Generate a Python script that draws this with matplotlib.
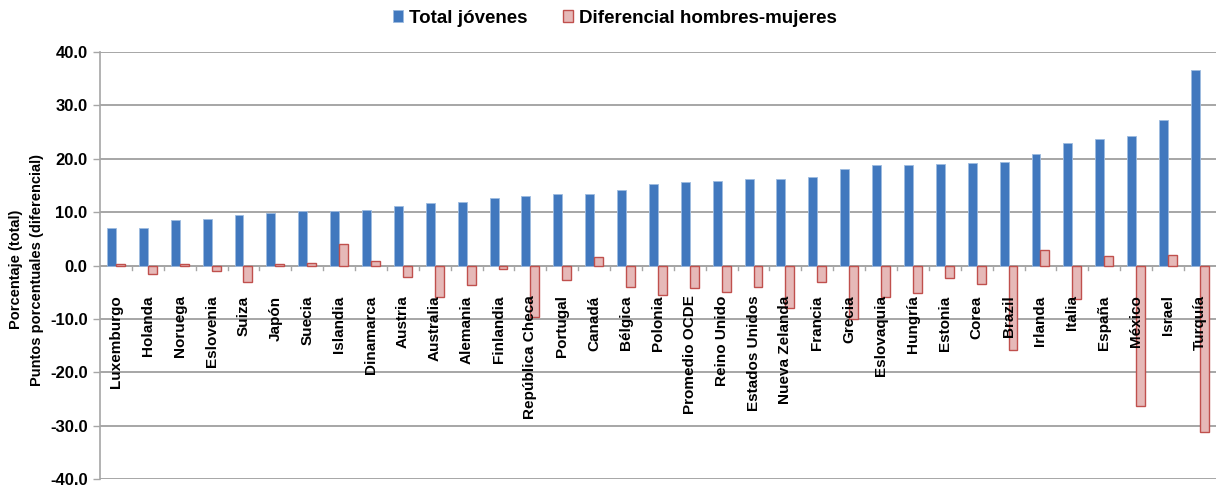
import numpy as np
import matplotlib.pyplot as plt

plt.rcParams['font.family'] = ['Liberation Sans', 'DejaVu Sans']
plt.rcParams['font.weight'] = 'bold'

# Paises ordenados por el total de jovenes
paises = ['Luxemburgo', 'Holanda', 'Noruega', 'Eslovenia', 'Suiza', 'Japón',
          'Suecia', 'Islandia', 'Dinamarca', 'Austria', 'Australia', 'Alemania',
          'Finlandia', 'República Checa', 'Portugal', 'Canadá', 'Bélgica',
          'Polonia', 'Promedio OCDE', 'Reino Unido', 'Estados Unidos',
          'Nueva Zelanda', 'Francia', 'Grecia', 'Eslovaquia', 'Hungría',
          'Estonia', 'Corea', 'Brazil', 'Irlanda', 'Italia', 'España',
          'México', 'Israel', 'Turquía']

total_jovenes = [7.1, 7.1, 8.45, 8.65, 9.5, 9.9, 10.2, 10.2, 10.45, 11.1,
                 11.7, 11.95, 12.65, 13.1, 13.45, 13.45, 14.15, 15.3, 15.7,
                 15.9, 16.15, 16.15, 16.6, 18.15, 18.8, 18.8, 19.0, 19.2,
                 19.45, 20.95, 22.95, 23.65, 24.35, 27.35, 36.6]

diferencial = [0.25, -1.6, 0.25, -1.1, -3.1, 0.2, 0.5, 3.95, 0.9, -2.1,
               -5.95, -3.6, -0.7, -9.7, -2.7, 1.6, -4.1, -5.5, -4.25,
               -4.9, -4.1, -7.95, -3.1, -10.1, -5.95, -5.1, -2.25, -3.4,
               -15.9, 2.9, -6.25, 1.75, -26.4, 2.0, -31.1]

azul = '#4178BE'
rosa = '#E6B9B8'
rojo = '#C0504D'
gris = '#A6A6A6'

fig = plt.figure(figsize=(12.17, 4.87), dpi=100)
ax = fig.add_axes([0.0822, 0.0164, 0.9168, 0.8768])

x = np.arange(len(paises))
w = 0.28
ax.bar(x - w / 2, total_jovenes, w, color=azul, edgecolor='#9DBBE0',
       linewidth=0.6, label='Total jóvenes', zorder=3)
ax.bar(x + w / 2, diferencial, w, color=rosa, edgecolor=rojo,
       linewidth=1.0, label='Diferencial hombres-mujeres', zorder=3)

ax.set_xlim(-0.5, len(paises) - 0.5)
ax.set_ylim(-40, 40)
ax.set_yticks(np.arange(-40, 41, 10))
ax.set_yticklabels([f'{v:.1f}' for v in np.arange(-40, 41, 10)],
                   fontsize=12, fontweight='bold')
ax.yaxis.grid(True, color=gris, linewidth=1.4, zorder=0)
ax.tick_params(axis='y', length=5, width=1, color=gris, pad=4)

# ticks de categoria sobre la linea del cero
ax.set_xticks([])
for b in x[1:] - 0.5:
    ax.plot([b, b], [0, -0.9], color=gris, linewidth=1, zorder=2)
ax.axhline(0, color=gris, linewidth=1.4, zorder=2)

for s in ['top', 'right', 'bottom']:
    ax.spines[s].set_visible(False)
ax.spines['left'].set_color(gris)
ax.spines['left'].set_linewidth(1.2)

# nombres de los paises bajo el eje
for xi, nombre in zip(x, paises):
    ax.text(xi, -5.6, nombre, rotation=90, ha='center', va='top',
            fontsize=11, fontweight='bold', zorder=4)

fig.text(0.013, 0.446, 'Porcentaje (total)', rotation=90, ha='center',
         va='center', fontsize=10.5, fontweight='bold')
fig.text(0.030, 0.446, 'Puntos porcentuales (diferencial)', rotation=90,
         ha='center', va='center', fontsize=10.5, fontweight='bold')

fig.legend(loc='center', bbox_to_anchor=(0.505, 0.963), ncol=2,
           frameon=False, prop={'size': 13.5, 'weight': 'bold'},
           handlelength=0.55, handleheight=0.55, handletextpad=0.3,
           columnspacing=1.9)

fig.savefig('out.png', dpi=100)
